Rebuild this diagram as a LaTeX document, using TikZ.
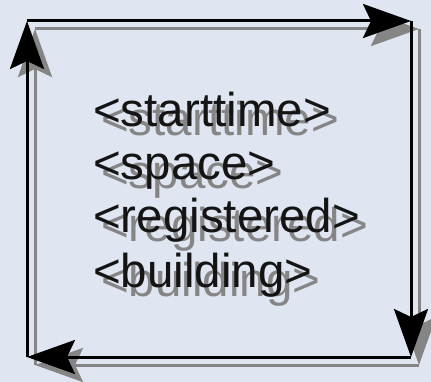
\documentclass[tikz,border=0pt]{standalone}
\usepackage{fontspec}
\setmainfont{Liberation Sans}
\usetikzlibrary{arrows.meta}
\definecolor{bg}{HTML}{DFE6F1}
\definecolor{shadowgray}{HTML}{858585}
\definecolor{ink}{HTML}{141414}
\tikzset{
  flow/.style={line width=3pt, -{Stealth[length=48pt,width=34pt,inset=8pt]}},
  tag/.style={anchor=base west, inner sep=0pt, font=\fontsize{47.5}{52}\selectfont},
}
\begin{document}
\begin{tikzpicture}[x=1pt,y=-1pt]
\fill[bg] (0,0) rectangle (431,382);
\useasboundingbox (0,0) rectangle (431,382);
\coordinate (tl) at (27,21);
\coordinate (tr) at (411,21);
\coordinate (br) at (411,357);
\coordinate (bl) at (27,357);
% shadow
\begin{scope}[shift={(8,8)}]
\coordinate (stl) at (27,21);
\coordinate (str) at (411,21);
\coordinate (sbr) at (411,357);
\coordinate (sbl) at (27,357);
\draw[flow, shadowgray] (sbl) -- (stl);
\draw[flow, shadowgray] (stl) -- (str);
\draw[flow, shadowgray] (str) -- (sbr);
\draw[flow, shadowgray] (sbr) -- (sbl);
\end{scope}
\draw[flow] (bl) -- (tl);
\draw[flow] (tl) -- (tr);
\draw[flow] (tr) -- (br);
\draw[flow] (br) -- (bl);
% text shadows
\node[tag, text=shadowgray] (s1) at (101,136) {<starttime>};
\node[tag, text=shadowgray] (s2) at (101,189) {<space>};
\node[tag, text=shadowgray] (s3) at (101,242) {<registered>};
\node[tag, text=shadowgray] (s4) at (101,296) {<building>};
% text
\node[tag, text=ink] (t1) at (93,127) {<starttime>};
\node[tag, text=ink] (t2) at (93,180) {<space>};
\node[tag, text=ink] (t3) at (93,233) {<registered>};
\node[tag, text=ink] (t4) at (93,287) {<building>};
\end{tikzpicture}
\end{document}
